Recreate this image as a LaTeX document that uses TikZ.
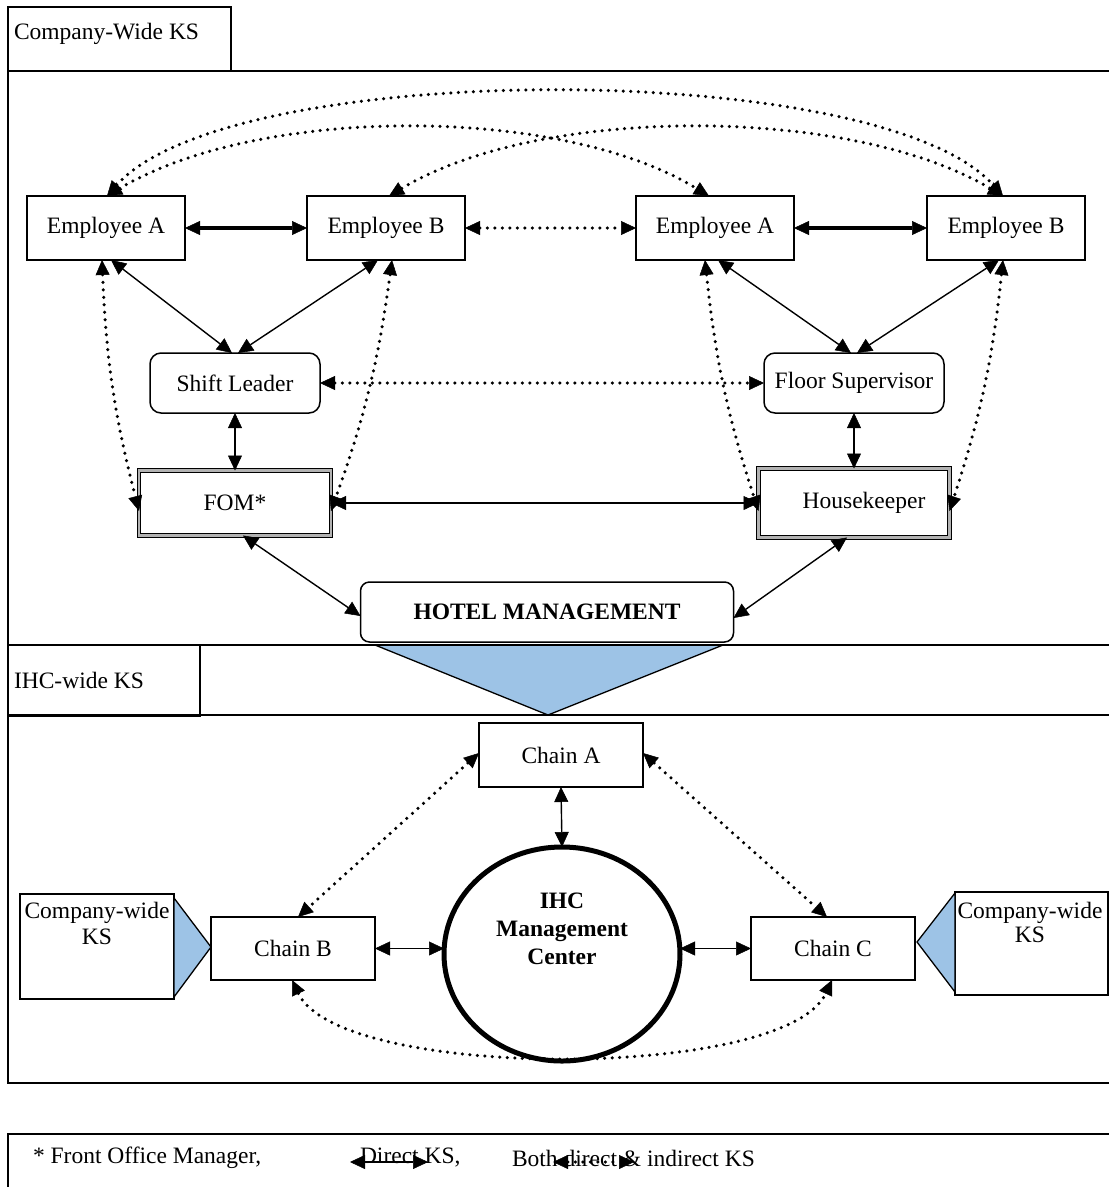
\documentclass[tikz,border=0pt]{standalone}
\usepackage{fontspec}
\setmainfont{Liberation Serif}
\usetikzlibrary{arrows.meta,shapes.geometric}
\definecolor{triblue}{RGB}{157,195,230}
\begin{document}
\begin{tikzpicture}[x=1pt,y=-1pt,
  every node/.style={font=\fontsize{23.5}{27}\selectfont, inner sep=0pt, outer sep=0pt},
  frame/.style={draw, line width=1.6pt},
  ebox/.style={draw, line width=1.5pt, minimum width=158pt, minimum height=64pt},
  cbox/.style={draw, line width=1.5pt, minimum width=164pt, minimum height=63pt},
  rbox/.style={draw, line width=1.5pt, rounded corners=11pt, minimum height=60pt},
  dbox/.style={draw, line width=1.2pt, double=gray!60, double distance=2.2pt},
  dks/.style={line width=1.4pt, >={Triangle[length=15pt,width=14pt,line width=0.5pt]}, <->},
  tks/.style={line width=3.8pt, >={Triangle[length=15pt,width=14pt,line width=0.5pt]}, <->},
  iks/.style={line width=3.5pt, line cap=round, dash pattern=on 0pt off 7.5pt, >={Triangle[length=15pt,width=14pt,line width=0.5pt]}, <->},
  tri/.style={fill=triblue, draw, line width=1.3pt, line join=miter}
]
\useasboundingbox (0,0) rectangle (1109,1187);
\clip (0,0) rectangle (1109,1187);

% frames
\filldraw[tri] (375,645) -- (723,645) -- (548,715) -- cycle;
\draw[frame] (8,7) rectangle (231,71);
\node[anchor=west] (tabA) at (14,34) {Company-Wide KS};
\draw[frame] (1115,71) -- (8,71) -- (8,645) -- (1115,645);
\draw[frame] (8,645) rectangle (200,716);
\node[anchor=west] (tabB) at (14,680) {IHC-wide KS};
\draw[frame] (1115,715) -- (8,715) -- (8,1083) -- (1115,1083);
\draw[frame] (1115,1134) -- (8,1134) -- (8,1200);

% upper nodes
\node[ebox] (eal) at (106,228) {Employee A};
\node[ebox] (ebl) at (386,228) {Employee B};
\node[ebox] (ear) at (715,228) {Employee A};
\node[ebox] (ebr) at (1006,228) {Employee B};
\node[rbox, minimum width=170pt] (sl) at (235,383) {Shift Leader};
\node[rbox, minimum width=180pt] (fs) at (854,383) {Floor Supervisor};
\node[dbox, minimum width=192pt, minimum height=65pt] (fom) at (235,503) {FOM*};
\node[dbox, minimum width=191pt, minimum height=69pt] (hk) at (854,503) {\hspace*{20pt}Housekeeper};
\node[rbox, rounded corners=9pt, minimum width=373pt, font=\fontsize{23.5}{27}\selectfont\bfseries] (hm) at (547,612) {HOTEL MANAGEMENT};

% upper connectors
\draw[tks] (eal.east) -- (ebl.west);
\draw[tks] (ear.east) -- (ebr.west);
\draw[iks] (ebl.east) -- (ear.west);
\draw[iks] ([xshift=1pt]eal.north) .. controls (230,58) and (880,58) .. ([xshift=-3pt]ebr.north);
\draw[iks] ([xshift=1pt]eal.north) .. controls (260,105) and (560,105) .. ([xshift=-6pt]ear.north);
\draw[iks] ([xshift=3pt]ebl.north) .. controls (540,105) and (850,105) .. ([xshift=-3pt]ebr.north);

\draw[dks] ([xshift=5pt]eal.south) -- ([xshift=-3pt]sl.north);
\draw[dks] ([xshift=-8pt]ebl.south) -- ([xshift=3pt]sl.north);
\draw[dks] ([xshift=3pt]ear.south) -- ([xshift=-3pt]fs.north);
\draw[dks] ([xshift=-7pt]ebr.south) -- ([xshift=3pt]fs.north);

\draw[iks] ([xshift=-4pt]eal.south) to[bend right=6] ([yshift=-8pt]fom.west);
\draw[iks] ([xshift=6pt]ebl.south) to[bend left=6] ([yshift=-8pt]fom.east);
\draw[iks] ([xshift=-10pt]ear.south) to[bend right=6] ([yshift=-8pt]hk.west);
\draw[iks] ([xshift=-3pt]ebr.south) to[bend left=6] ([yshift=-8pt]hk.east);

\draw[dks] (sl.south) -- (fom.north);
\draw[dks] (fs.south) -- (hk.north);
\draw[iks] (sl.east) -- (fs.west);
\draw[dks] (fom.east) -- (hk.west);
\draw[dks] ([xshift=8pt]fom.south) -- ([yshift=-4pt]hm.west);
\draw[dks] ([xshift=-7pt]hk.south) -- ([yshift=-6pt]hm.east);

% lower nodes
\node[cbox, minimum height=64pt] (ca) at (561,755) {Chain A};
\node[cbox] (cb) at (293,948.5) {Chain B};
\node[cbox] (cc) at (833,948.5) {Chain C};
\node[draw, ellipse, line width=5pt, minimum width=236pt, minimum height=214pt] (ihc) at (562,954) {};
\node[align=center, font=\fontsize{23.5}{28}\selectfont\bfseries] (ihct) at (562,929) {IHC\\Management\\Center};

\node[draw, line width=1.5pt, minimum width=154pt, minimum height=105pt] (cwl) at (97,946.5) {};
\node[align=center, anchor=north, font=\fontsize{23.5}{26}\selectfont] (cwlt) at (97,902) {Company-wide\\KS};
\filldraw[tri] (174,898) -- (211,947) -- (174,997) -- cycle;
\node[draw, line width=1.5pt, minimum width=153pt, minimum height=103pt] (cwr) at (1031.5,943.5) {};
\node[align=center, anchor=north, font=\fontsize{23.5}{24}\selectfont] (cwrt) at (1030,902) {Company-wide\\KS};
\filldraw[tri] (955,893) -- (917,942) -- (955,992) -- cycle;

% lower connectors
\draw[dks] (ca.south) -- (ihc.north);
\draw[dks] (cb.east) -- (ihc.west |- cb.east);
\draw[dks] (ihc.east |- cc.west) -- (cc.west);
\draw[iks] ([yshift=2pt]ca.west) -- ([xshift=5pt]cb.north);
\draw[iks] ([yshift=2pt]ca.east) -- ([xshift=-6pt]cc.north);
\draw[iks] ([xshift=-1pt]cb.south) .. controls (340,1081) and (785,1081) .. ([xshift=-1pt]cc.south);

% legend
\node[anchor=west] (lgA) at (33,1158) {* Front Office Manager,};
\node[anchor=west] (lgB) at (360,1158) {Direct KS,};
\node[anchor=west] (lgC) at (512,1158) {Both direct \& indirect KS};
\coordinate (la1) at (350,1162);
\coordinate (la2) at (428,1162);
\draw[dks] (la1) -- (la2);
\coordinate (lb1) at (553,1162);
\coordinate (lb2) at (634,1162);
\draw[iks] (lb1) -- (lb2);
\end{tikzpicture}
\end{document}
